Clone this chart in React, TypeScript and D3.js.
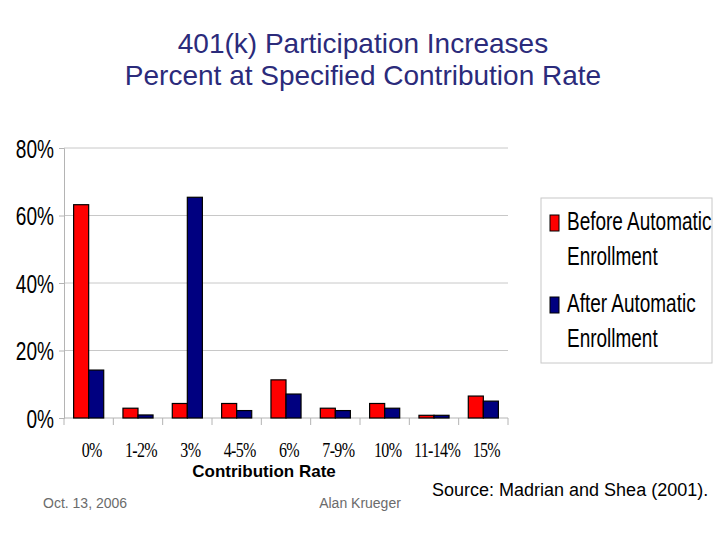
import { useEffect, useRef } from "react";
import * as d3 from "d3";

// contribution rate categories
const categories = ["0%", "1-2%", "3%", "4-5%", "6%", "7-9%", "10%", "11-14%", "15%"];
const xTickLabels = ["0%", "1-2%", "3%", "4-5%", "6%", "7-9%", "10%", "11-14%", "15%"];

// percent of participants at each rate
const beforeValues = [63.2, 2.9, 4.3, 4.3, 11.3, 2.9, 4.3, 0.8, 6.5];
const afterValues = [14.2, 0.9, 65.4, 2.2, 7.1, 2.2, 2.9, 0.8, 5.0];

const seriesNames = ["Before Automatic Enrollment", "After Automatic Enrollment"];
const seriesColors = ["#ff0000", "#000080"];
const yTicks = [0, 20, 40, 60, 80];

const App = () => {
  const ref = useRef<SVGSVGElement>(null);

  useEffect(() => {
    draw();
  }, []);

  const draw = () => {
    const width = 720;
    const height = 540;
    const margin = { top: 148, right: 212, bottom: 122, left: 64 };
    const sans = "Liberation Sans, Arial, sans-serif";

    const svg = d3.select(ref.current).attr("width", width).attr("height", height);
    svg.selectAll("*").remove();

    svg.append("rect").attr("width", width).attr("height", height).attr("fill", "#fff");

    // title
    const title = svg
      .append("text")
      .attr("text-anchor", "middle")
      .attr("font-family", sans)
      .attr("font-size", 28)
      .attr("fill", "#2b2b7b");
    title.append("tspan").attr("x", 363).attr("y", 53).text("401(k) Participation Increases");
    title.append("tspan").attr("x", 363).attr("y", 85).text("Percent at Specified Contribution Rate");

    const xScale = d3
      .scaleBand()
      .domain(categories)
      .range([margin.left, width - margin.right])
      .padding(0);

    const xInner = d3
      .scaleBand()
      .domain(["before", "after"])
      .range([0, xScale.bandwidth()])
      .paddingInner(0)
      .paddingOuter(0.64);

    const yScale = d3
      .scaleLinear()
      .domain([0, 80])
      .range([height - margin.bottom, margin.top]);

    // gridlines
    svg
      .append("g")
      .selectAll("line")
      .data(yTicks.filter((t) => t > 0))
      .join("line")
      .attr("x1", margin.left)
      .attr("x2", width - margin.right)
      .attr("y1", (d) => yScale(d))
      .attr("y2", (d) => yScale(d))
      .attr("stroke", "#c8c8c8")
      .attr("stroke-width", 1);

    // y axis
    const yAxis = svg
      .append("g")
      .attr("transform", `translate(${margin.left},0)`)
      .call(d3.axisLeft(yScale).tickValues(yTicks).tickSize(5).tickFormat(() => ""));
    yAxis.select(".domain").attr("stroke", "#b4b4b4");
    yAxis.selectAll(".tick line").attr("stroke", "#b4b4b4");

    // condensed y labels
    svg
      .append("g")
      .selectAll("text")
      .data(yTicks)
      .join("text")
      .attr("transform", (d) => `translate(54,${yScale(d) + 9.5}) scale(0.72,1)`)
      .attr("text-anchor", "end")
      .attr("font-family", sans)
      .attr("font-size", 26.5)
      .attr("fill", "#000")
      .text((d) => `${d}%`);

    // x axis
    const xAxis = svg
      .append("g")
      .attr("transform", `translate(0,${height - margin.bottom})`);
    xAxis
      .append("line")
      .attr("x1", margin.left)
      .attr("x2", width - margin.right)
      .attr("stroke", "#b4b4b4");
    xAxis
      .selectAll("line.tk")
      .data([...categories.map((c) => xScale(c) as number), width - margin.right])
      .join("line")
      .attr("class", "tk")
      .attr("x1", (d) => d)
      .attr("x2", (d) => d)
      .attr("y1", 0)
      .attr("y2", 7)
      .attr("stroke", "#b4b4b4");
    xAxis
      .selectAll("text")
      .data(categories)
      .join("text")
      .attr(
        "transform",
        (d) => `translate(${(xScale(d) as number) + xScale.bandwidth() / 2 + 3},39) scale(0.8,1)`
      )
      .attr("text-anchor", "middle")
      .attr("font-family", "Liberation Serif, Times New Roman, serif")
      .attr("font-size", 20)
      .attr("letter-spacing", -0.8)
      .text((d, i) => xTickLabels[i]);

    // bars
    const groups = svg
      .append("g")
      .selectAll("g")
      .data(categories)
      .join("g")
      .attr("transform", (d) => `translate(${xScale(d)},0)`);

    groups
      .selectAll("rect")
      .data((d, i) => [
        { key: "before", v: beforeValues[i], c: seriesColors[0] },
        { key: "after", v: afterValues[i], c: seriesColors[1] },
      ])
      .join("rect")
      .attr("x", (d) => xInner(d.key) as number)
      .attr("width", xInner.bandwidth())
      .attr("y", (d) => yScale(d.v))
      .attr("height", (d) => yScale(0) - yScale(d.v))
      .attr("fill", (d) => d.c)
      .attr("stroke", "#000")
      .attr("stroke-width", 1.2);

    // axis title
    svg
      .append("text")
      .attr("x", 264)
      .attr("y", 477)
      .attr("text-anchor", "middle")
      .attr("font-family", sans)
      .attr("font-weight", "bold")
      .attr("font-size", 17)
      .text("Contribution Rate");

    // legend
    const legend = svg.append("g").attr("transform", "translate(541,198)");
    legend
      .append("rect")
      .attr("width", 171)
      .attr("height", 165)
      .attr("fill", "#fff")
      .attr("stroke", "#c8c8c8");
    seriesNames.forEach((name, i) => {
      const words = name.split(" ");
      const line1 = words.slice(0, 2).join(" ");
      const line2 = words.slice(2).join(" ");
      const g = legend.append("g").attr("transform", `translate(0,${i * 82})`);
      g.append("rect")
        .attr("x", 9)
        .attr("y", 17)
        .attr("width", 9)
        .attr("height", 16)
        .attr("fill", seriesColors[i])
        .attr("stroke", "#000")
        .attr("stroke-width", 1);
      [line1, line2].forEach((txt, j) => {
        g.append("text")
          .attr("transform", `translate(26,${32 + j * 35}) scale(0.73,1)`)
          .attr("font-family", sans)
          .attr("font-size", 26)
          .attr("fill", "#000")
          .text(txt);
      });
    });

    // footer
    svg
      .append("text")
      .attr("x", 43)
      .attr("y", 508)
      .attr("font-family", sans)
      .attr("font-size", 14)
      .attr("fill", "#6b6b6b")
      .text("Oct. 13, 2006");
    svg
      .append("text")
      .attr("x", 360)
      .attr("y", 508)
      .attr("text-anchor", "middle")
      .attr("font-family", sans)
      .attr("font-size", 14)
      .attr("fill", "#6b6b6b")
      .text("Alan Krueger");
    svg
      .append("text")
      .attr("x", 432)
      .attr("y", 496)
      .attr("font-family", sans)
      .attr("font-size", 18)
      .attr("fill", "#000")
      .text("Source: Madrian and Shea (2001).");
  };

  return (
    <div style={{ position: "absolute", left: 0, top: 0 }}>
      <svg ref={ref}></svg>
    </div>
  );
};

export default App;
